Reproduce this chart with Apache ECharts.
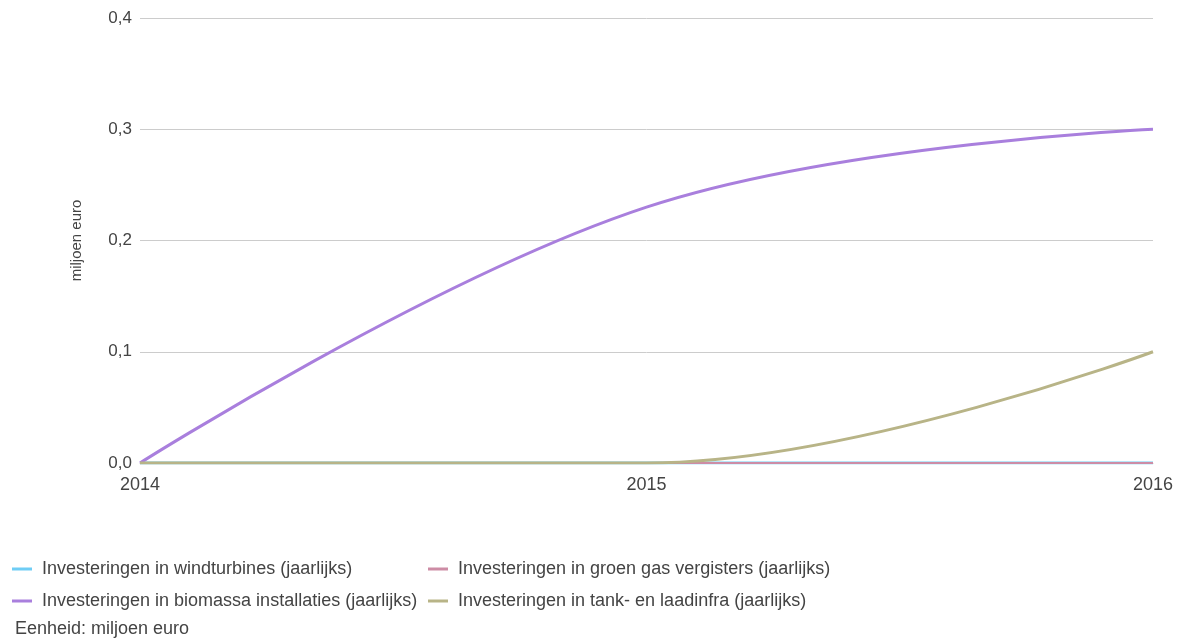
<!DOCTYPE html>
<html>
<head>
<meta charset="utf-8">
<script src="https://cdn.jsdelivr.net/npm/echarts@6/dist/echarts.min.js"></script>
<style>
  html, body { margin: 0; padding: 0; background: #fff; }
  #chart { width: 1184px; height: 639px; }
</style>
</head>
<body>
<div id="chart"></div>
<script>
// Years on the horizontal axis
const years = ['2014', '2015', '2016'];

// Yearly investments, miljoen euro
const windturbines = [0, 0, 0];
const groenGas = [0, 0, 0];
const biomassa = [0, 0.23, 0.3];
const tankLaadinfra = [0, 0, 0.1];

const seriesNames = [
  'Investeringen in windturbines (jaarlijks)',
  'Investeringen in groen gas vergisters (jaarlijks)',
  'Investeringen in biomassa installaties (jaarlijks)',
  'Investeringen in tank- en laadinfra (jaarlijks)'
];
const seriesValues = [windturbines, groenGas, biomassa, tankLaadinfra];
const colors = ['#6fcdf5', '#cd8ca5', '#a97fdd', '#b8b487'];
const widths = [3, 2, 3, 3];

const FONT = '"Liberation Sans", Arial, sans-serif';
const TEXT = '#444';

const fmtComma = v => v.toFixed(1).replace('.', ',');

// One legend block per series, laid out as two columns
const legendPos = [
  { left: 12, top: 560 },
  { left: 428, top: 560 },
  { left: 12, top: 592 },
  { left: 428, top: 592 }
];

const chart = echarts.init(document.getElementById('chart'), null, { renderer: 'canvas' });

chart.setOption({
  backgroundColor: '#fff',
  animation: false,
  color: colors,
  grid: { left: 140, right: 31, top: 18, bottom: 176, containLabel: false },
  xAxis: {
    type: 'category',
    data: years,
    boundaryGap: false,
    axisLine: { show: true, lineStyle: { color: '#ccc', width: 1 } },
    axisTick: { show: false },
    axisLabel: { color: TEXT, fontFamily: FONT, fontSize: 18, margin: 13 },
    splitLine: { show: false }
  },
  yAxis: {
    type: 'value',
    min: 0,
    max: 0.4,
    interval: 0.1,
    name: 'miljoen euro',
    nameLocation: 'middle',
    nameRotate: 90,
    nameGap: 56,
    nameTextStyle: { color: TEXT, fontFamily: FONT, fontSize: 15 },
    axisLine: { show: false },
    axisTick: { show: false },
    axisLabel: { color: TEXT, fontFamily: FONT, fontSize: 17, margin: 8, formatter: fmtComma },
    splitLine: { show: true, lineStyle: { color: '#ccc', width: 1 } }
  },
  legend: seriesNames.map((name, i) => ({
    data: [name],
    left: legendPos[i].left,
    top: legendPos[i].top,
    padding: 0,
    orient: 'horizontal',
    icon: 'rect',
    itemWidth: 20,
    itemHeight: 3,
    selectedMode: false,
    textStyle: { color: TEXT, fontFamily: FONT, fontSize: 18, padding: [0, 0, 0, 5] }
  })),
  graphic: [{
    type: 'text',
    left: 15,
    top: 620,
    style: { text: 'Eenheid: miljoen euro', fill: TEXT, font: '18px ' + FONT }
  }],
  series: seriesNames.map((name, i) => ({
    name: name,
    type: 'line',
    data: seriesValues[i],
    smooth: 0.4,
    showSymbol: false,
    symbol: 'none',
    lineStyle: { color: colors[i], width: widths[i] },
    itemStyle: { color: colors[i] },
    z: 2 + i
  }))
});
</script>
</body>
</html>
